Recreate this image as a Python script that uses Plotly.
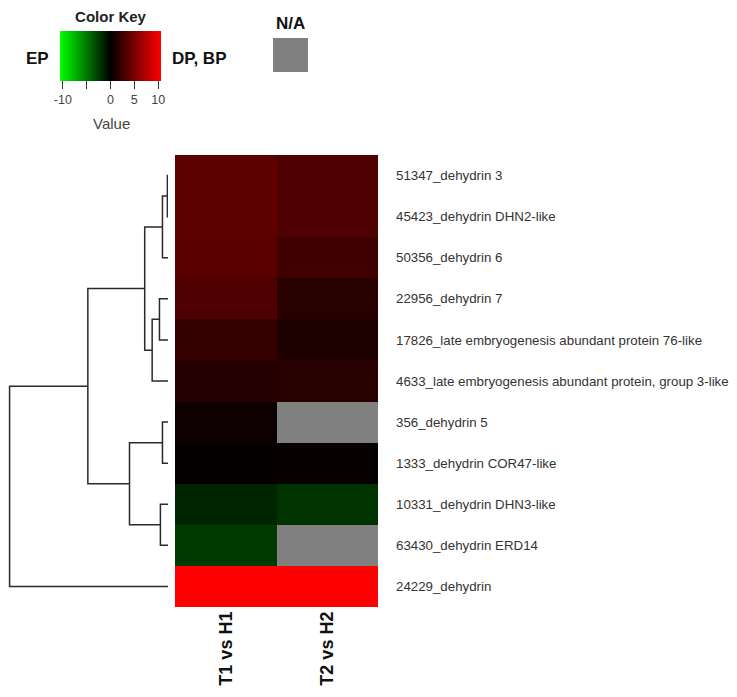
import plotly.graph_objects as go

# ---------------- data ----------------
genes = [
    "51347_dehydrin 3",
    "45423_dehydrin DHN2-like",
    "50356_dehydrin 6",
    "22956_dehydrin 7",
    "17826_late embryogenesis abundant protein 76-like",
    "4633_late embryogenesis abundant protein, group 3-like",
    "356_dehydrin 5",
    "1333_dehydrin COR47-like",
    "10331_dehydrin DHN3-like",
    "63430_dehydrin ERD14",
    "24229_dehydrin",
]
columns = ["T1 vs H1", "T2 vs H2"]
t1_vs_h1 = [3.9, 3.9, 3.8, 3.3, 2.3, 1.5, 0.6, 0.2, -1.5, -2.4, 11.0]
t2_vs_h2 = [3.3, 3.3, 2.7, 1.7, 1.2, 1.7, None, 0.3, -2.1, None, 11.0]

# dendrogram merges (leaves 0..10, new nodes numbered from 11)
merge_left = [0, 11, 3, 13, 12, 6, 8, 16, 15, 19]
merge_right = [1, 2, 4, 5, 14, 7, 9, 17, 18, 10]
merge_height = [0.4, 3.5, 5.4, 10.0, 14.7, 3.5, 4.8, 24.3, 50.6, 100.0]

key_ticks = [-10, -5, 0, 5, 10]
key_ticktext = ["-10", "", "0", "5", "10"]

# ---------------- layout helpers (pixels, page coordinates) ----------------
OFF = 8  # page body margin
W, H = 737 - OFF, 697 - OFF
def px(x):
    return (x - OFF) / W
def py(y):
    return 1 - (y - OFF) / H

FONT = "Liberation Sans, Arial"
ZMAX = 10.6
colorscale = [[0.0, "#00ff00"], [0.5, "#000000"], [1.0, "#ff0000"]]

rows = list(range(len(genes)))
z = [[a, b] for a, b in zip(t1_vs_h1, t2_vs_h2)]
na = [[1 if a is None else None, 1 if b is None else None] for a, b in zip(t1_vs_h1, t2_vs_h2)]

fig = go.Figure()

# N/A cells
fig.add_trace(go.Heatmap(
    z=na, x=[0, 1], y=rows, colorscale=[[0, "#808080"], [1, "#808080"]],
    showscale=False, hoverinfo="skip", xaxis="x", yaxis="y"))

# main heatmap
fig.add_trace(go.Heatmap(
    z=z, x=[0, 1], y=rows, zmin=-ZMAX, zmax=ZMAX, colorscale=colorscale,
    xaxis="x", yaxis="y",
    colorbar=dict(
        orientation="h", lenmode="pixels", len=101, thickness=50,
        thicknessmode="pixels",
        x=px(60), xanchor="left", y=py(14), yanchor="top",
        xpad=0, ypad=0, outlinewidth=0,
        tickmode="array", tickvals=key_ticks, ticktext=key_ticktext,
        ticks="outside", ticklen=8, tickcolor="#333", tickwidth=1,
        tickfont=dict(family=FONT, size=12.5, color="#444444"),
        title=dict(text="<b>Color Key</b>", side="top",
                   font=dict(family=FONT, size=15, color="#222")),
    )))

# dendrogram
ypos = {i: float(i) for i in rows}
hpos = {i: 0.0 for i in rows}
dx, dy = [], []
n = len(genes)
for k, (l, r, h) in enumerate(zip(merge_left, merge_right, merge_height)):
    node = n + k
    dx += [hpos[l], h, h, hpos[r], None]
    dy += [ypos[l], ypos[l], ypos[r], ypos[r], None]
    ypos[node] = (ypos[l] + ypos[r]) / 2
    hpos[node] = h
fig.add_trace(go.Scatter(x=dx, y=dy, mode="lines", line=dict(color="#2a2a2a", width=1.5),
                         xaxis="x2", yaxis="y", hoverinfo="skip", showlegend=False))

fig.update_layout(
    width=W, height=H, margin=dict(l=0, r=0, t=0, b=0),
    paper_bgcolor="white", plot_bgcolor="white", showlegend=False,
    xaxis=dict(domain=[px(175), px(378)], range=[-0.5, 1.5], anchor="y",
               tickmode="array", tickvals=[0, 1], ticktext=[f"<b>{c}</b>" for c in columns],
               tickangle=-90, ticks="", showgrid=False, zeroline=False, showline=False,
               tickfont=dict(family=FONT, size=18, color="#111")),
    yaxis=dict(domain=[py(607), py(155)], range=[10.5, -0.5], anchor="x", side="right",
               tickmode="array", tickvals=rows, ticktext=genes, ticks="",
               ticklabelstandoff=17,
               showgrid=False, zeroline=False, showline=False,
               tickfont=dict(family=FONT, size=13.3, color="#333")),
    xaxis2=dict(domain=[0, px(168)], range=[101, 0], anchor="y",
                visible=False, showgrid=False, zeroline=False),
)

# legend texts
font_b = dict(family=FONT, size=17, color="#111")
def label(x, y, text, font):
    fig.add_annotation(x=px(x), y=py(y), xref="paper", yref="paper", text=text,
                       showarrow=False, font=font, xanchor="center", yanchor="middle")

label(37, 58, "<b>EP</b>", font_b)
label(199, 58, "<b>DP, BP</b>", font_b)
label(111, 123, "Value", dict(family=FONT, size=15, color="#444"))
label(290, 23, "<b>N/A</b>", font_b)
fig.add_shape(type="rect", xref="paper", yref="paper",
              x0=px(273), x1=px(308), y0=py(72), y1=py(38),
              fillcolor="#808080", line=dict(width=0))

fig.write_html("out.html")
